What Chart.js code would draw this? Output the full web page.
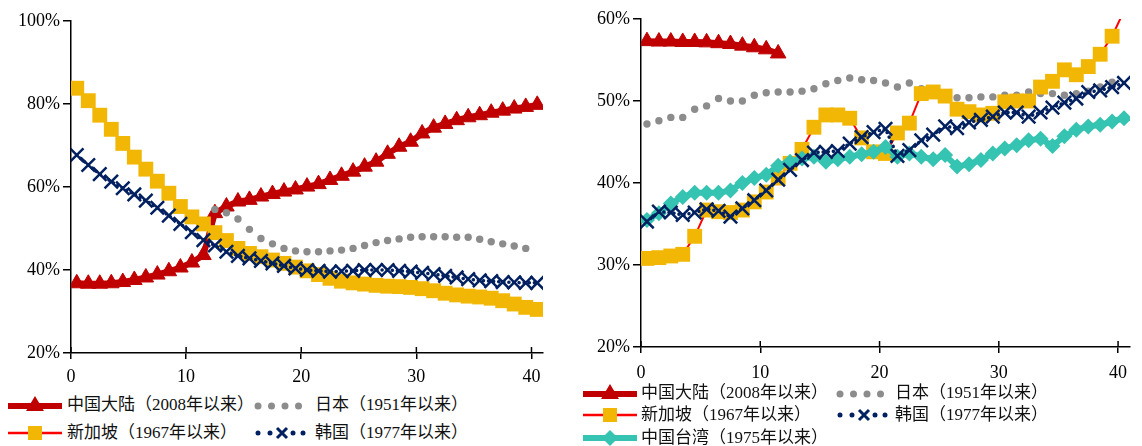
<!DOCTYPE html>
<html>
<head>
<meta charset="utf-8">
<script src="https://cdn.jsdelivr.net/npm/chart.js@4.4.0/dist/chart.umd.min.js"></script>
<style>
  body { margin: 0; background: #fff; width: 1142px; height: 446px; position: relative; overflow: hidden;
         font-family: "Liberation Serif", "Noto Sans CJK SC", serif; color: #111; }
  .box { position: absolute; }
  .sw { position: absolute; }
  .lt { position: absolute; font-size: 17px; line-height: 20px; white-space: nowrap; }
</style>
</head>
<body>
<div class="box" style="left:0;top:0;width:560px;height:390px"><canvas id="leftChart"></canvas></div>
<div class="box" style="left:580px;top:0;width:562px;height:384px"><canvas id="rightChart"></canvas></div>

<!-- left legend -->
<svg class="sw" style="left:8px;top:395px" width="54" height="20"><line x1="0" y1="11" x2="54" y2="11" stroke="#C00000" stroke-width="6"/><polygon points="27,1 36,16 18,16" fill="#C00000"/></svg>
<span class="lt" style="left:67px;top:395px">中国大陆（2008年以来）</span>
<svg class="sw" style="left:254px;top:395px" width="50" height="20"><circle cx="4" cy="11" r="3.5" fill="#8C8C8C"/><circle cx="17.5" cy="11" r="3.5" fill="#8C8C8C"/><circle cx="31" cy="11" r="3.5" fill="#8C8C8C"/><circle cx="44.5" cy="11" r="3.5" fill="#8C8C8C"/></svg>
<span class="lt" style="left:315px;top:395px">日本（1951年以来）</span>
<svg class="sw" style="left:8px;top:423px" width="54" height="20"><line x1="0" y1="10" x2="54" y2="10" stroke="#FF0000" stroke-width="2.5"/><rect x="20" y="3" width="14" height="14" fill="#F2B705"/></svg>
<span class="lt" style="left:67px;top:423px">新加坡（1967年以来）</span>
<svg class="sw" style="left:254px;top:423px" width="52" height="20"><circle cx="4" cy="10" r="2.5" fill="#002060"/><circle cx="16" cy="10" r="2.5" fill="#002060"/><path d="M23,5 L33,15 M33,5 L23,15" stroke="#002060" stroke-width="3"/><circle cx="39" cy="10" r="2.5" fill="#002060"/><circle cx="49" cy="10" r="2.5" fill="#002060"/></svg>
<span class="lt" style="left:315px;top:423px">韩国（1977年以来）</span>

<!-- right legend -->
<svg class="sw" style="left:583px;top:383px" width="54" height="20"><line x1="0" y1="11" x2="54" y2="11" stroke="#C00000" stroke-width="6"/><polygon points="27,1 36,16 18,16" fill="#C00000"/></svg>
<span class="lt" style="left:641px;top:383px">中国大陆（2008年以来）</span>
<svg class="sw" style="left:836px;top:383px" width="50" height="20"><circle cx="4" cy="11" r="3.5" fill="#8C8C8C"/><circle cx="17.5" cy="11" r="3.5" fill="#8C8C8C"/><circle cx="31" cy="11" r="3.5" fill="#8C8C8C"/><circle cx="44.5" cy="11" r="3.5" fill="#8C8C8C"/></svg>
<span class="lt" style="left:895px;top:383px">日本（1951年以来）</span>
<svg class="sw" style="left:583px;top:405px" width="54" height="20"><line x1="0" y1="10" x2="54" y2="10" stroke="#FF0000" stroke-width="2.5"/><rect x="20" y="3" width="14" height="14" fill="#F2B705"/></svg>
<span class="lt" style="left:641px;top:405px">新加坡（1967年以来）</span>
<svg class="sw" style="left:836px;top:405px" width="52" height="20"><circle cx="4" cy="10" r="2.5" fill="#002060"/><circle cx="16" cy="10" r="2.5" fill="#002060"/><path d="M23,5 L33,15 M33,5 L23,15" stroke="#002060" stroke-width="3"/><circle cx="39" cy="10" r="2.5" fill="#002060"/><circle cx="49" cy="10" r="2.5" fill="#002060"/></svg>
<span class="lt" style="left:895px;top:405px">韩国（1977年以来）</span>
<svg class="sw" style="left:583px;top:428px" width="54" height="20"><line x1="0" y1="10" x2="54" y2="10" stroke="#35C3B2" stroke-width="6"/><polygon points="27,2 35,10 27,18 19,10" fill="#35C3B2"/></svg>
<span class="lt" style="left:641px;top:428px">中国台湾（1975年以来）</span>

<script>
// years since start (0..40)
const years = [0,1,2,3,4,5,6,7,8,9,10,11,12,13,14,15,16,17,18,19,20,
  21,22,23,24,25,26,27,28,29,30,31,32,33,34,35,36,37,38,39,40];
const xTicks = [0, 10, 20, 30, 40];
const leftYTicks = [20, 40, 60, 80, 100];
const rightYTicks = [20, 30, 40, 50, 60];

// left panel
const leftChina = [36.8,36.7,36.7,36.8,37.1,37.6,38.2,38.9,39.7,40.6,41.8,43.6,53.7,55.3,
  56.5,56.9,57.7,58.3,58.9,59.4,60.1,60.7,61.7,62.7,63.7,64.9,66.1,68.0,69.7,70.9,
  72.9,74.3,75.2,76.1,76.8,77.3,77.9,78.4,78.9,79.3,79.8];
const leftJapan = [null,null,null,null,null,null,null,null,null,null,null,null,
  54.6,53.8,52.3,49.8,47.6,46.3,45.2,44.6,44.4,44.4,44.6,44.8,45.2,45.9,46.6,47.1,
  47.5,47.9,48.0,48.0,48.0,47.9,47.9,47.4,46.8,46.3,45.8,45.2,null];
const leftSingapore = [83.8,80.8,77.3,73.9,70.5,67.2,64.3,61.4,58.5,55.3,52.8,51.1,49.0,47.1,45.2,
  44.0,43.2,42.4,41.6,40.7,39.8,38.9,38.0,37.3,36.9,36.6,36.3,36.1,36.0,35.8,35.5,
  35.0,34.4,34.0,33.7,33.5,33.2,32.6,31.8,31.0,30.5];
const leftKorea = [67.7,65.3,63.1,61.3,59.7,58.2,56.7,55.0,53.1,51.1,49.1,47.2,45.9,44.4,43.4,
  42.8,42.2,41.6,41.0,40.4,40.0,39.8,39.6,39.7,39.8,40.0,40.0,40.0,39.8,39.6,39.3,
  39.0,38.6,38.2,37.8,37.5,37.3,37.1,37.0,36.9,36.9];

// right panel
const rightChina = [57.3,57.25,57.25,57.2,57.2,57.15,57.05,56.95,56.75,56.55,56.3,55.8,
  null,null,null,null,null,null,null,null,null,null,null,null,null,null,null,null,null,
  null,null,null,null,null,null,null,null,null,null,null,null];
const rightJapan = [47.2,47.6,48.0,48.0,49.0,49.4,50.3,50.0,50.0,50.7,51.0,51.1,51.1,51.2,51.5,
  52.1,52.5,52.8,52.6,52.5,52.2,51.7,52.2,51.5,51.0,50.6,50.4,50.4,50.5,50.5,50.7,
  50.7,51.1,50.9,50.9,50.7,50.9,51.2,51.7,52.3,null];
const rightSingapore = [30.8,30.9,31.1,31.3,33.5,36.7,36.5,36.4,36.7,37.7,38.9,40.6,42.4,44.1,46.8,
  48.3,48.3,47.9,45.5,43.8,43.6,46.1,47.3,50.9,51.1,50.6,49.0,48.7,48.3,48.5,49.9,
  50.0,50.0,51.7,52.4,53.8,53.2,54.2,55.7,57.9,61.0];
const rightKorea = [35.3,36.5,36.4,36.1,36.4,36.8,36.6,35.9,36.9,37.9,39.1,40.4,41.6,42.8,43.7,
  43.8,43.9,44.8,45.6,46.2,46.6,43.3,44.0,45.2,45.9,46.9,46.7,47.4,47.7,48.1,48.6,
  48.6,48.1,48.6,49.2,49.8,50.3,51.1,51.3,51.7,52.2];
const rightTaiwan = [35.5,36.3,37.5,38.3,38.8,38.8,38.8,39.1,40.0,40.6,41.0,42.1,42.6,43.0,43.2,
  42.6,42.9,43.2,43.5,43.8,44.4,43.2,43.6,43.2,42.9,43.4,42.0,42.3,42.8,43.6,44.2,
  44.6,45.2,45.4,44.5,45.7,46.5,46.9,47.1,47.5,47.9];

const RED = "#C00000", GRAY = "#8C8C8C", GOLD = "#F2B705", NAVY = "#002060", TEAL = "#35C3B2";
const tickFont = { family: "Liberation Serif", size: 18 };

// points sit in the middle of each year slot, like the excel category axis
function toPoints(vals) {
  return vals.map((v, i) => ({ x: years[i] + 0.5, y: v }));
}

function chinaSet(vals) {
  return { data: toPoints(vals), borderColor: RED, backgroundColor: RED, borderWidth: 6,
    pointStyle: "triangle", pointRadius: 9, pointBorderWidth: 1, pointBackgroundColor: RED,
    pointBorderColor: RED, order: 4 };
}
function japanSet(vals) {
  return { data: toPoints(vals), showLine: false, pointStyle: "circle", pointRadius: 3.7,
    pointBorderWidth: 0, pointBackgroundColor: GRAY, pointBorderColor: GRAY, order: 3 };
}
function singaporeSet(vals) {
  return { data: toPoints(vals), borderColor: "#FF0000", borderWidth: 2, pointStyle: "rect",
    pointRadius: 10.5, pointBorderWidth: 0, pointBackgroundColor: GOLD, pointBorderColor: GOLD, order: 2 };
}
function koreaSet(vals) {
  return { data: toPoints(vals), borderColor: NAVY, borderWidth: 3.5, borderDash: [0.1, 5],
    borderCapStyle: "round", pointStyle: "crossRot", pointRadius: 9.5, pointBorderWidth: 2.5,
    pointBorderColor: NAVY, pointBackgroundColor: NAVY, order: 0 };
}
function taiwanSet(vals) {
  return { data: toPoints(vals), borderColor: TEAL, borderWidth: 6, pointStyle: "rectRot",
    pointRadius: 8, pointBorderWidth: 0, pointBackgroundColor: TEAL, pointBorderColor: TEAL, order: 1 };
}

// excel style ticks that cross the x axis
const innerTicks = {
  id: "innerTicks",
  afterDraw(chart) {
    const sx = chart.scales.x, ctx = chart.ctx, y0 = chart.chartArea.bottom;
    ctx.save();
    ctx.strokeStyle = "#000";
    ctx.lineWidth = 1.5;
    sx.ticks.forEach((t) => {
      const px = sx.getPixelForValue(t.value);
      ctx.beginPath();
      ctx.moveTo(px, y0);
      ctx.lineTo(px, y0 - 6);
      ctx.stroke();
    });
    ctx.restore();
  },
};

function buildOptions(yTicks, yWidth, top, right, xPad) {
  return {
    responsive: true,
    maintainAspectRatio: false,
    animation: false,
    events: [],
    layout: { padding: { top: top, right: right, left: 0, bottom: 0 } },
    plugins: { legend: { display: false }, tooltip: { enabled: false } },
    scales: {
      x: {
        type: "linear", min: 0, max: 41,
        afterBuildTicks: (s) => { s.ticks = xTicks.map((v) => ({ value: v })); },
        afterFit: (s) => { s.height = 37; },
        grid: { drawOnChartArea: false, tickLength: 6, color: "#000", lineWidth: 1.5 },
        border: { color: "#000", width: 1.5 },
        ticks: { color: "#000", font: tickFont, padding: xPad, maxRotation: 0 },
      },
      y: {
        type: "linear", min: yTicks[0], max: yTicks[yTicks.length - 1],
        afterBuildTicks: (s) => { s.ticks = yTicks.map((v) => ({ value: v })); },
        afterFit: (s) => { s.width = yWidth; },
        grid: { drawOnChartArea: false, tickLength: 8, color: "#000", lineWidth: 1.5 },
        border: { color: "#000", width: 1.5 },
        ticks: { color: "#000", font: tickFont, padding: 3, callback: (v) => v + "%" },
      },
    },
  };
}

new Chart(document.getElementById("leftChart"), {
  type: "line",
  data: { datasets: [
    chinaSet(leftChina), japanSet(leftJapan), singaporeSet(leftSingapore), koreaSet(leftKorea),
  ] },
  options: buildOptions(leftYTicks, 71, 21, 17, 7),
  plugins: [innerTicks],
});

new Chart(document.getElementById("rightChart"), {
  type: "line",
  data: { datasets: [
    chinaSet(rightChina), japanSet(rightJapan), singaporeSet(rightSingapore),
    koreaSet(rightKorea), taiwanSet(rightTaiwan),
  ] },
  options: buildOptions(rightYTicks, 61, 19, 12, 9),
  plugins: [innerTicks],
});
</script>
</body>
</html>
